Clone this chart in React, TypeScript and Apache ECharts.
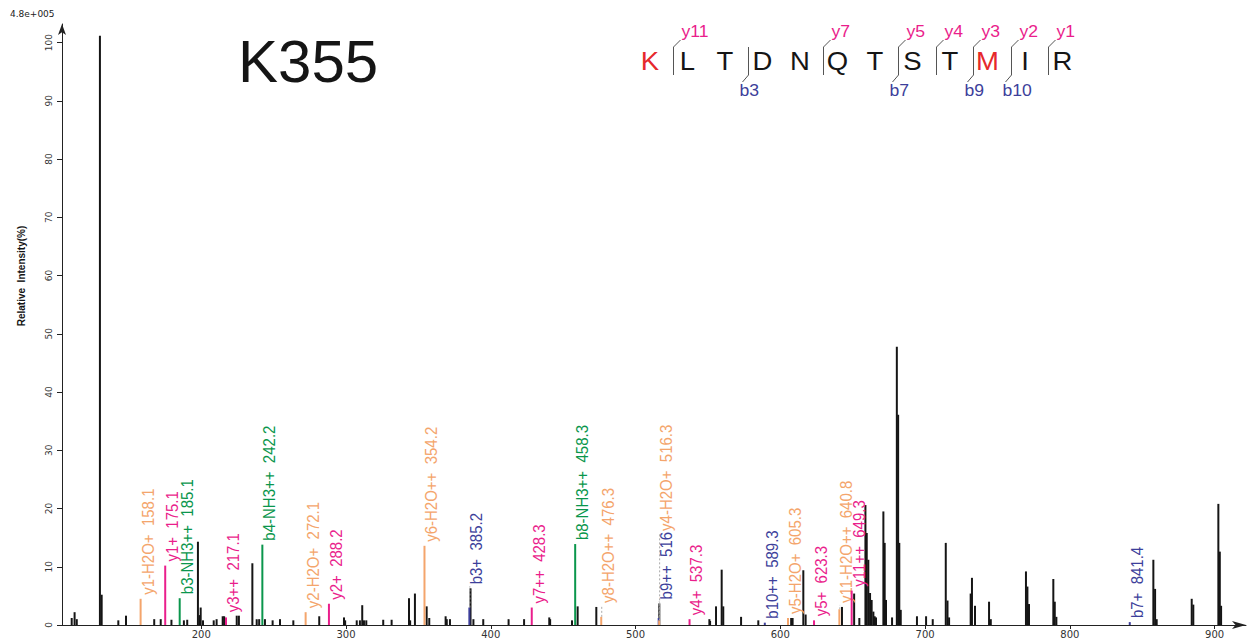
import React, { useEffect, useRef } from "react";
import * as echarts from "echarts";

const X_TICKS = [200, 300, 400, 500, 600, 700, 800, 900];
const Y_TICKS = [0, 10, 20, 30, 40, 50, 60, 70, 80, 90, 100];

const TITLE = "K355";
const SCALE_TEXT = "4.8e+005";
const Y_NAME = "Relative  Intensity(%)";

const SEQUENCE = ["K", "L", "T", "D", "N", "Q", "T", "S", "T", "M", "I", "R"];
const MODIFIED = [0, 9];
const Y_IONS = [11, 7, 5, 4, 3, 2, 1];
const B_IONS = [3, 7, 9, 10];

// unannotated peaks
const PEAK_MZ = [
  110.5, 112.5, 114.0, 130.0, 131.2, 142.7, 148.0, 167.5, 172.0, 179.4, 188.0, 190.3,
  197.7, 198.9, 199.6, 201.2, 208.6, 210.6, 214.8, 215.8, 224.5, 226.0, 235.3, 238.3,
  240.0, 244.0, 249.3, 254.4, 263.6, 281.5, 298.6, 299.4, 307.4, 309.6, 311.2, 312.4,
  314.0, 325.7, 331.5, 343.5, 344.3, 347.6, 355.7, 357.5, 368.8, 369.6, 371.8, 386.0,
  388.0, 394.8, 412.3, 423.0, 440.4, 441.0, 456.1, 460.0, 472.9, 516.4, 551.0, 551.5,
  555.6, 559.5, 560.6, 572.9, 584.8, 607.5, 608.5, 615.9, 617.5, 642.6, 651.0, 654.6,
  658.8, 659.7, 660.8, 662.0, 663.1, 664.3, 665.2, 666.1, 671.2, 672.1, 673.0, 677.2,
  680.5, 681.4, 682.2, 683.2, 694.4, 700.7, 705.3, 714.3, 715.5, 716.6, 731.5, 732.4,
  734.5, 744.2, 745.4, 769.7, 770.7, 771.8, 788.6, 789.6, 790.7, 857.7, 858.9, 860.0,
  884.2, 885.3, 902.6, 903.6, 904.5,
];
const PEAK_INT = [
  1.2, 2.2, 1.0, 101.2, 5.2, 0.8, 1.6, 1.0, 1.0, 0.9, 0.8, 0.9,
  14.3, 1.7, 3.0, 0.8, 0.8, 1.0, 1.5, 1.5, 1.6, 1.6, 10.6, 1.0,
  1.0, 1.0, 0.8, 1.0, 0.8, 1.5, 1.3, 0.8, 0.8, 0.8, 3.4, 0.8,
  0.8, 0.9, 0.9, 4.6, 0.8, 5.4, 3.2, 1.2, 1.5, 1.0, 1.0, 6.3,
  1.0, 1.0, 1.0, 1.0, 1.3, 1.0, 0.8, 3.2, 3.1, 3.7, 1.0, 0.7,
  3.2, 9.5, 3.2, 1.4, 0.8, 1.2, 1.2, 9.4, 1.8, 3.1, 5.4, 1.2,
  20.6, 15.8, 11.2, 5.5, 4.3, 2.3, 1.5, 1.3, 19.5, 14.1, 4.3, 1.3,
  47.8, 36.1, 14.1, 2.6, 1.5, 1.5, 1.0, 14.1, 4.2, 1.3, 5.4, 8.1,
  3.3, 4.0, 1.0, 9.2, 6.6, 3.6, 7.9, 4.0, 1.4, 11.2, 6.2, 1.0,
  4.5, 3.5, 20.8, 12.6, 3.3,
];

// annotated fragment peaks
const ANN_LABEL = [
  "y1-H2O+  158.1", "y1+  175.1", "b3-NH3++  185.1", "y3++  217.1", "b4-NH3++  242.2",
  "y2-H2O+  272.1", "y2+  288.2", "y6-H2O++  354.2", "b3+  385.2", "y7++  428.3",
  "b8-NH3++  458.3", "y8-H2O++  476.3", "b9++  516", "y4-H2O+  516.3", "y4+  537.3",
  "b10++  589.3", "y5-H2O+  605.3", "y5+  623.3", "y11-H2O++  640.8", "y11++  649.3",
  "b7+  841.4",
];
const ANN_MZ = [
  158.1, 175.1, 185.1, 217.1, 242.2, 272.1, 288.2, 354.2, 385.2, 428.3,
  458.3, 476.3, 516.0, 516.3, 537.3, 589.3, 605.3, 623.3, 640.8, 649.3, 841.4,
];
const ANN_INT = [
  4.5, 10.2, 4.6, 1.3, 13.8, 2.2, 3.65, 13.6, 3.0, 3.0,
  13.9, 1.4, 1.2, 0.8, 1.0, 0.4, 1.2, 0.8, 2.7, 5.9, 0.5,
];

const PINK = "#ea1e8c";
const BLUE = "#3d3f9b";
const GREEN = "#0a964c";
const ORANGE = "#f4a56c";
const RED = "#e6282b";
const INK = "#151515";

const ANN_FONT_SIZE = 15;
const ANN_FONT = `${ANN_FONT_SIZE}px "Liberation Sans", Arial, sans-serif`;

function ionColor(label: string): string {
  if (label.indexOf("NH3") >= 0) return GREEN;
  if (label.indexOf("H2O") >= 0) return ORANGE;
  if (label[0] === "y") return PINK;
  return BLUE;
}

let measureCtx: CanvasRenderingContext2D | null = null;
function textWidth(t: string): number {
  if (!measureCtx) {
    const c = document.createElement("canvas");
    measureCtx = c.getContext("2d");
  }
  if (!measureCtx) return t.length * 8;
  measureCtx.font = ANN_FONT;
  return measureCtx.measureText(t).width;
}

export default function App() {
  const ref = useRef<HTMLDivElement>(null);

  useEffect(() => {
    if (!ref.current) return;
    const chart = echarts.init(ref.current, undefined, { renderer: "svg" });

    const peakData = PEAK_MZ.map((m, i) => [m, PEAK_INT[i]]);
    const annData = ANN_MZ.map((m, i) => [m, ANN_INT[i], i]);

    const layoutAnn = (api: any, upto: number) => {
      const res: { px: number; start: number; end: number }[] = [];
      for (let i = 0; i <= upto; i++) {
        const mz = ANN_MZ[i];
        let base = ANN_INT[i];
        for (let k = 0; k < PEAK_MZ.length; k++) {
          if (Math.abs(PEAK_MZ[k] - mz) <= 4 && PEAK_INT[k] > base) base = PEAK_INT[k];
        }
        const p = api.coord([mz, base]);
        let start = p[1] - 4;
        for (let j = 0; j < i; j++) {
          if (Math.abs(res[j].px - p[0]) < 6) start = Math.min(start, res[j].end - 1);
        }
        const len = textWidth(ANN_LABEL[i]);
        res.push({ px: p[0], start, end: start - len });
      }
      return res;
    };

    const graphics: any[] = [];
    graphics.push({
      type: "text",
      left: 10,
      top: 9,
      style: { text: SCALE_TEXT, font: '9px "DejaVu Sans", sans-serif', fill: "#222" },
    });
    graphics.push({
      type: "text",
      x: 21,
      y: 276,
      rotation: Math.PI / 2,
      style: {
        text: Y_NAME,
        font: 'bold 10px "Liberation Sans", Arial, sans-serif',
        fill: INK,
        align: "center",
        verticalAlign: "middle",
      },
    });
    graphics.push({
      type: "text",
      x: 238,
      y: 61,
      style: {
        text: TITLE,
        font: '60px "Liberation Sans", Arial, sans-serif',
        fill: INK,
        align: "left",
        verticalAlign: "middle",
      },
    });

    const SEQ_X0 = 650;
    const SEQ_DX = 37.5;
    const SEQ_Y = 61;
    SEQUENCE.forEach((ch, i) => {
      graphics.push({
        type: "text",
        x: SEQ_X0 + i * SEQ_DX,
        y: SEQ_Y,
        scaleX: 1.1,
        style: {
          text: ch,
          font: '25px "Liberation Sans", Arial, sans-serif',
          fill: MODIFIED.indexOf(i) >= 0 ? RED : INK,
          align: "center",
          verticalAlign: "middle",
        },
      });
    });
    const cuts = new Set<number>();
    Y_IONS.forEach((n) => cuts.add(SEQUENCE.length - n));
    B_IONS.forEach((n) => cuts.add(n));
    cuts.forEach((idx) => {
      const lx = Math.round(SEQ_X0 + idx * SEQ_DX - 14.5) + 0.5;
      graphics.push({
        type: "line",
        shape: { x1: lx, y1: 47, x2: lx, y2: 75 },
        style: { stroke: "#555", lineWidth: 1 },
      });
    });
    Y_IONS.forEach((n) => {
      const lx = Math.round(SEQ_X0 + (SEQUENCE.length - n) * SEQ_DX - 14.5) + 0.5;
      graphics.push({
        type: "polyline",
        shape: { points: [[lx, 47], [lx + 7, 40]] },
        style: { stroke: "#555", lineWidth: 1, fill: null },
      });
      graphics.push({
        type: "text",
        x: lx + 8,
        y: 32,
        scaleX: 1.1,
        style: {
          text: "y" + n,
          font: '16px "Liberation Sans", Arial, sans-serif',
          fill: PINK,
          align: "left",
          verticalAlign: "middle",
        },
      });
    });
    B_IONS.forEach((n) => {
      const lx = Math.round(SEQ_X0 + n * SEQ_DX - 14.5) + 0.5;
      graphics.push({
        type: "polyline",
        shape: { points: [[lx, 75], [lx - 6, 82]] },
        style: { stroke: "#555", lineWidth: 1, fill: null },
      });
      graphics.push({
        type: "text",
        x: lx - 9,
        y: 91,
        scaleX: 1.1,
        style: {
          text: "b" + n,
          font: '16px "Liberation Sans", Arial, sans-serif',
          fill: BLUE,
          align: "left",
          verticalAlign: "middle",
        },
      });
    });

    chart.setOption({
      animation: false,
      grid: { left: 62, right: 12, top: 24, bottom: 19 },
      xAxis: {
        type: "value",
        min: 103.8,
        max: 921.7,
        splitLine: { show: false },
        axisLine: {
          show: true,
          symbol: ["none", "arrow"],
          symbolSize: [6, 14],
          lineStyle: { color: "#222", width: 1 },
        },
        axisTick: {
          show: true,
          length: 4,
          customValues: X_TICKS,
          lineStyle: { color: "#222" },
        },
        axisLabel: {
          customValues: X_TICKS,
          margin: 4,
          fontSize: 10,
          fontFamily: '"DejaVu Sans", sans-serif',
          color: "#333",
        },
      },
      yAxis: {
        type: "value",
        min: 0,
        max: 103.2,
        splitLine: { show: false },
        axisLine: {
          show: true,
          symbol: ["none", "arrow"],
          symbolSize: [6, 11],
          lineStyle: { color: "#222", width: 1 },
        },
        axisTick: {
          show: true,
          length: 5,
          customValues: Y_TICKS,
          lineStyle: { color: "#222" },
        },
        axisLabel: {
          customValues: Y_TICKS,
          rotate: 90,
          margin: 9,
          fontSize: 9,
          fontFamily: '"DejaVu Sans", sans-serif',
          color: "#333",
        },
      },
      graphic: graphics,
      series: [
        {
          type: "custom",
          name: "peaks",
          data: peakData,
          clip: false,
          renderItem: (params: any, api: any) => {
            const x = api.value(0);
            const h = api.value(1);
            const top = api.coord([x, h]);
            const base = api.coord([x, 0]);
            return {
              type: "rect",
              shape: { x: top[0] - 1, y: top[1], width: 2, height: base[1] - top[1] },
              style: { fill: INK },
            };
          },
        },
        {
          type: "custom",
          name: "annotations",
          data: annData,
          clip: false,
          z: 3,
          renderItem: (params: any, api: any) => {
            const i = api.value(2);
            const mz = api.value(0);
            const h = api.value(1);
            const top = api.coord([mz, h]);
            const base = api.coord([mz, 0]);
            const lay = layoutAnn(api, i)[i];
            const color = ionColor(ANN_LABEL[i]);
            const children: any[] = [
              {
                type: "rect",
                shape: { x: top[0] - 1, y: top[1], width: 2, height: Math.max(1, base[1] - top[1]) },
                style: { fill: color },
              },
            ];
            if (lay.start < top[1] - 6) {
              children.push({
                type: "line",
                shape: { x1: top[0] + 0.5, y1: top[1], x2: top[0] + 0.5, y2: lay.start + 2 },
                style: { stroke: "#aaa", lineWidth: 1, lineDash: [2, 2] },
              });
            }
            children.push({
              type: "text",
              x: top[0] + 6.5,
              y: lay.start,
              rotation: Math.PI / 2,
              scaleY: 1.15,
              style: {
                text: ANN_LABEL[i],
                font: ANN_FONT,
                fill: color,
                align: "left",
                verticalAlign: "middle",
              },
            });
            return { type: "group", children };
          },
        },
      ],
    });

    return () => {
      chart.dispose();
    };
  }, []);

  return (
    <div
      ref={ref}
      style={{ position: "fixed", left: 0, top: 0, width: 1258, height: 644, background: "#fff" }}
    />
  );
}
